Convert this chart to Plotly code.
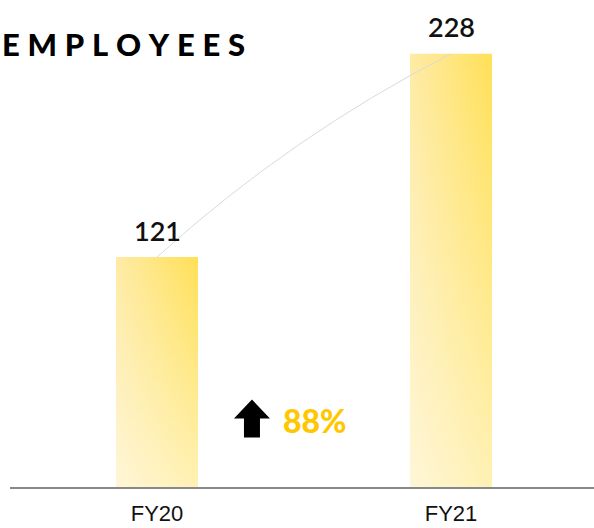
import plotly.graph_objects as go

# ---- data ----
categories = ["FY20", "FY21"]
employees = [121, 228]
title_text = "EMPLOYEES"

growth_pct = round((employees[1] - employees[0]) / employees[0] * 100)
growth_label = f"{growth_pct}%"

# ---- styling ----
BAR_HALF = 0.1395
LEFT_COL = "#FEEBA6"
RIGHT_COL = "#FFE057"
GOLD = "#FFC700"

fig = go.Figure()

for i, v in enumerate(employees):
    xs = [i - BAR_HALF, i + BAR_HALF, i + BAR_HALF, i - BAR_HALF, i - BAR_HALF]
    ys = [0, 0, v, v, 0]
    # horizontal gradient: light left -> saturated right
    fig.add_trace(go.Scatter(
        x=xs, y=ys, mode="lines", fill="toself",
        line=dict(width=0, color="rgba(0,0,0,0)"),
        fillgradient=dict(type="horizontal",
                          colorscale=[[0, LEFT_COL], [1, RIGHT_COL]]),
        hoverinfo="skip", showlegend=False,
    ))
    # vertical white wash: strong at bottom, none at top
    fig.add_trace(go.Scatter(
        x=xs, y=ys, mode="lines", fill="toself",
        line=dict(width=0, color="rgba(0,0,0,0)"),
        fillgradient=dict(type="vertical",
                          colorscale=[[0, "rgba(255,255,255,0.55)"],
                                      [1, "rgba(255,255,255,0)"]]),
        hoverinfo="skip", showlegend=False,
    ))

# value labels
for i, v in enumerate(employees):
    fig.add_annotation(
        x=i, y=v, xref="x", yref="y", text=str(v), showarrow=False,
        yanchor="middle", yshift=27,
        font=dict(family="Lato", size=27, color="#111111", weight=600),
    )

# decorative curved connector between bar tops
cx = 0.456
cy = (employees[0] + employees[1]) / 2 + 10.4
fig.add_shape(
    type="path", xref="x", yref="y", layer="above",
    path=f"M {0},{employees[0]} Q {cx},{cy} {1},{employees[1]}",
    line=dict(color="#DADADA", width=1),
)

# growth arrow (pixel-sized, anchored in data space)
fig.add_shape(
    type="path", xref="x", yref="y", layer="above",
    xsizemode="pixel", ysizemode="pixel", xanchor=0.323, yanchor=36.0,
    path="M 0,19 L 18,0 L 8,0 L 8,-19 L -8,-19 L -8,0 L -18,0 Z",
    fillcolor="#000000", line=dict(width=0),
)
fig.add_annotation(
    x=0.423, y=35.2, xref="x", yref="y", text=growth_label,
    showarrow=False, xanchor="left", yanchor="middle",
    font=dict(family="Lato", size=32, color=GOLD, weight=900),
)

sp = "\u2005"
fig.update_layout(
    width=594, height=528,
    margin=dict(l=10, r=0, t=0, b=41, autoexpand=False),
    paper_bgcolor="white", plot_bgcolor="white",
    title=dict(
        text=sp.join(title_text),
        xref="container", yref="container",
        x=2 / 594, xanchor="left", y=1 - 45 / 528, yanchor="middle",
        font=dict(family="Lato", size=31, color="#000000", weight=900),
    ),
    xaxis=dict(
        range=[-0.5, 1.4864], tickvals=[0, 1], ticktext=categories,
        showline=True, linecolor="#888888", linewidth=2,
        ticks="", showgrid=False, zeroline=False, automargin=False,
        tickfont=dict(family="Liberation Sans", size=22, color="#111111"),
        ticklabelstandoff=6, fixedrange=True,
    ),
    yaxis=dict(
        range=[0, 256.3], visible=False, showgrid=False, zeroline=False,
        fixedrange=True, automargin=False,
    ),
    showlegend=False,
)

fig.write_html(
    "out.html",
    config={"displayModeBar": False, "staticPlot": True},
    post_script="document.body.style.margin='0';",
)
